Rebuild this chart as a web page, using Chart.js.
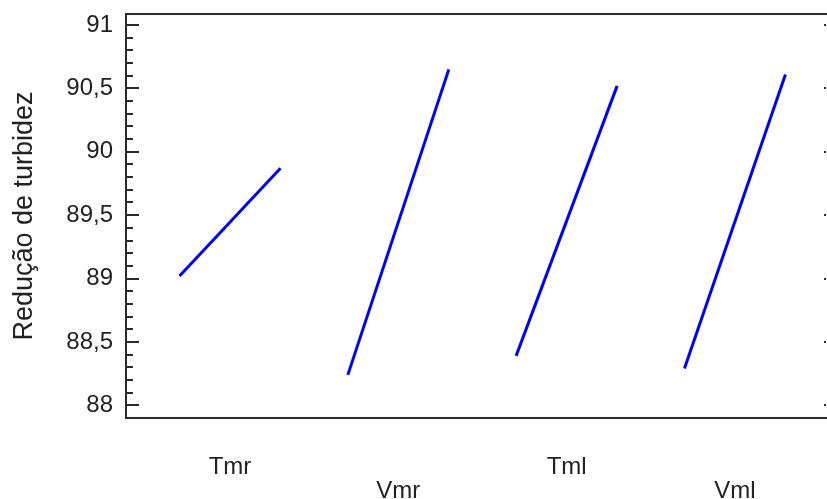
<!DOCTYPE html>
<html>
<head>
<meta charset="utf-8">
<script src="https://cdn.jsdelivr.net/npm/chart.js@4/dist/chart.umd.min.js"></script>
<style>
    html, body { margin: 0; padding: 0; background: #fff; }
    #wrap { width: 827px; height: 499px; position: relative; }
</style>
</head>
<body>
<div id="wrap"><canvas id="effectsChart"></canvas></div>
<script>
// FACTORS AND EFFECT VALUES (low level -> high level)
const factors = ['Tmr', 'Vmr', 'Tml', 'Vml'];
const lowValues = [89.02, 88.24, 88.39, 88.29];
const highValues = [89.87, 90.65, 90.52, 90.61];

// Y AXIS TICKS
const yMajorTicks = [88, 88.5, 89, 89.5, 90, 90.5, 91];
const yLabels = ['88', '88,5', '89', '89,5', '90', '90,5', '91'];

const yTicks = [];
for (let i = 0; i <= 30; i++) {
    yTicks.push(Math.round((88 + i * 0.1) * 10) / 10);
}

const axisColor = '#2a2a2a';
const fontFamily = '"Liberation Sans", Arial, sans-serif';

function isMajor(v) {
    return yMajorTicks.some(m => Math.abs(m - v) < 1e-6);
}

// ONE SEGMENT PER FACTOR
const datasets = factors.map((name, i) => ({
    label: name,
    data: [
        { x: i + 1 - 0.3, y: lowValues[i] },
        { x: i + 1 + 0.3, y: highValues[i] }
    ],
    borderColor: '#0000ff',
    borderWidth: 3,
    pointRadius: 0,
    fill: false,
    tension: 0
}));

// FRAME, TOP LINE AND INSIDE TICKS
const framePlugin = {
    id: 'frame',
    afterDraw(chart) {
        const { ctx, chartArea: area, scales: { y } } = chart;
        ctx.save();
        ctx.strokeStyle = axisColor;
        ctx.fillStyle = axisColor;
        ctx.lineWidth = 2;

        ctx.beginPath();
        ctx.moveTo(area.left - 1, area.top);
        ctx.lineTo(chart.width, area.top);
        ctx.stroke();

        y.ticks.forEach(t => {
            const py = Math.round(y.getPixelForValue(t.value));
            const major = isMajor(t.value);
            ctx.beginPath();
            ctx.moveTo(area.left, py);
            ctx.lineTo(area.left + (major ? 13 : 7), py);
            ctx.stroke();
            if (major) {
                ctx.fillRect(area.right - 2, py - 1, 2, 2);
            }
        });
        ctx.restore();
    }
};

const ctx = document.getElementById('effectsChart');

new Chart(ctx, {
    type: 'line',
    data: { datasets: datasets },
    options: {
        responsive: true,
        maintainAspectRatio: false,
        animation: false,
        layout: { padding: { top: 14, right: 1, left: 0, bottom: 0 } },
        plugins: {
            legend: { display: false },
            tooltip: { enabled: false }
        },
        scales: {
            x: {
                type: 'linear',
                min: 0.382,
                max: 4.541,
                afterBuildTicks: scale => {
                    scale.ticks = factors.map((_, i) => ({ value: i + 1 }));
                },
                afterFit: scale => {
                    scale.height = 81;
                    scale.paddingLeft = 0;
                    scale.paddingRight = 0;
                },
                grid: { display: false, drawTicks: false },
                border: { display: true, color: axisColor, width: 2 },
                ticks: {
                    autoSkip: false,
                    maxRotation: 0,
                    padding: 37,
                    color: '#222',
                    font: { family: fontFamily, size: 24, lineHeight: 1 },
                    callback: (value, index) => index % 2 === 1 ? ['', factors[index]] : factors[index]
                }
            },
            y: {
                type: 'linear',
                min: 87.9,
                max: 91.087,
                afterBuildTicks: scale => {
                    scale.ticks = yTicks.map(v => ({ value: v }));
                },
                afterFit: scale => {
                    scale.width = 126;
                    scale.paddingTop = 0;
                    scale.paddingBottom = 0;
                },
                grid: { display: false, drawTicks: false },
                border: { display: true, color: axisColor, width: 2 },
                ticks: {
                    autoSkip: false,
                    padding: 13,
                    color: '#222',
                    font: { family: fontFamily, size: 24 },
                    callback: value => {
                        const idx = yMajorTicks.findIndex(m => Math.abs(m - value) < 1e-6);
                        return idx >= 0 ? yLabels[idx] : '';
                    }
                },
                title: {
                    display: true,
                    text: 'Redução de turbidez',
                    color: '#222',
                    padding: { top: 8, bottom: 0 },
                    font: { family: fontFamily, size: 27 }
                }
            }
        }
    },
    plugins: [framePlugin]
});
</script>
</body>
</html>
